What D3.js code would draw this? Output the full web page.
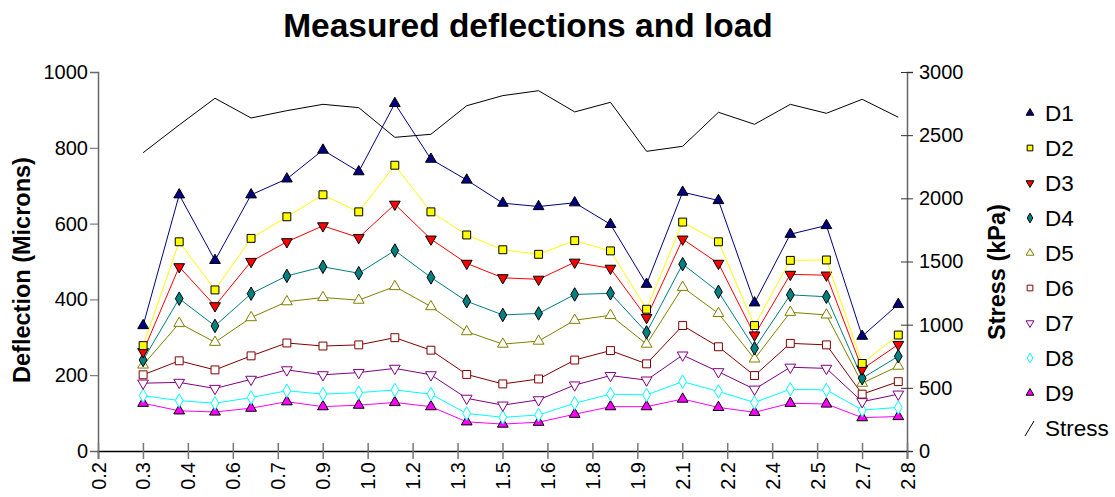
<!DOCTYPE html>
<html>
<head>
<meta charset="utf-8">
<script src="https://cdn.jsdelivr.net/npm/d3@7"></script>
<style>
  html, body { margin: 0; padding: 0; background: #fff; }
  svg { display: block; font-family: "Liberation Sans", Arial, sans-serif; }
</style>
</head>
<body>
<svg id="chart" width="1115" height="497"></svg>
<script>
// Station positions along the section (km)
const stations = [0.345, 0.461, 0.576, 0.692, 0.807, 0.923, 1.038, 1.154, 1.270, 1.385, 1.501,
                  1.616, 1.732, 1.847, 1.963, 2.079, 2.194, 2.310, 2.425, 2.541, 2.656, 2.772];

// Deflections per geophone (microns)
const D1 = [331, 676, 503, 676, 718, 794, 737, 917, 770, 715, 654, 645, 655, 598, 440, 683, 661, 391, 572, 595, 303, 387];
const D2 = [278, 552, 425, 561, 618, 676, 631, 754, 631, 570, 531, 519, 555, 528, 374, 604, 552, 331, 503, 504, 231, 306];
const D3 = [262, 486, 383, 500, 552, 594, 563, 651, 559, 495, 457, 453, 498, 482, 352, 559, 495, 306, 466, 464, 216, 281];
const D4 = [240, 402, 330, 415, 462, 486, 469, 529, 458, 395, 359, 363, 413, 416, 313, 493, 420, 271, 412, 407, 192, 250];
const D5 = [227, 337, 287, 352, 394, 405, 398, 434, 381, 315, 282, 290, 345, 358, 282, 432, 363, 243, 366, 359, 179, 224];
const D6 = [201, 238, 214, 251, 285, 277, 280, 299, 266, 202, 177, 190, 240, 265, 230, 331, 275, 199, 284, 280, 150, 183];
const D7 = [179, 181, 165, 189, 214, 201, 207, 218, 201, 139, 121, 135, 174, 199, 187, 253, 209, 163, 221, 218, 130, 150];
const D8 = [146, 133, 126, 141, 159, 150, 154, 161, 150, 99, 89, 95, 126, 150, 148, 183, 157, 128, 163, 161, 108, 115];
const D9 = [126, 106, 103, 113, 130, 117, 121, 128, 117, 77, 71, 76, 97, 117, 117, 137, 115, 102, 126, 124, 88, 91];

// Applied stress (kPa)
const stress = [2361, 2581, 2792, 2636, 2694, 2744, 2718, 2483, 2507, 2733, 2813, 2852, 2684, 2760,
                2372, 2412, 2681, 2586, 2744, 2673, 2784, 2642];

// Axis tick labels
const xTickLabels = ["0.2", "0.3", "0.4", "0.6", "0.7", "0.9", "1.0", "1.2", "1.3", "1.5",
                     "1.6", "1.8", "1.9", "2.1", "2.2", "2.4", "2.5", "2.7", "2.8"];
const yLeftTicks = [0, 200, 400, 600, 800, 1000];
const yRightTicks = [0, 500, 1000, 1500, 2000, 2500, 3000];

const seriesNames = ["D1", "D2", "D3", "D4", "D5", "D6", "D7", "D8", "D9"];
const seriesValues = [D1, D2, D3, D4, D5, D6, D7, D8, D9];

// Marker style for each geophone series
const styles = {
  D1: { color: "#000080", shape: "up",      fill: "#000080", stroke: "#000" },
  D2: { color: "#ffff00", shape: "square",  fill: "#ffff00", stroke: "#000" },
  D3: { color: "#ff0000", shape: "down",    fill: "#ff0000", stroke: "#000" },
  D4: { color: "#008080", shape: "diamond", fill: "#008080", stroke: "#000" },
  D5: { color: "#808000", shape: "up",      fill: "#fff",    stroke: "#808000" },
  D6: { color: "#800000", shape: "square",  fill: "#fff",    stroke: "#800000" },
  D7: { color: "#800080", shape: "down",    fill: "#fff",    stroke: "#800080" },
  D8: { color: "#00ffff", shape: "diamond", fill: "#fff",    stroke: "#00ffff" },
  D9: { color: "#ff00ff", shape: "up",      fill: "#ff00ff", stroke: "#000" }
};

const FONT = "Liberation Sans, Arial, sans-serif";
const svg = d3.select("#chart");
const plot = { left: 98, right: 907, top: 72, bottom: 451 };

const x = d3.scaleLinear().domain([0.2, 2.8]).range([plot.left, plot.right]);
const yL = d3.scaleLinear().domain([0, 1000]).range([plot.bottom, plot.top]);
const yR = d3.scaleLinear().domain([0, 3000]).range([plot.bottom, plot.top]);

// Evenly spaced x ticks across the domain
const xTickValues = xTickLabels.map((_, i) => 0.2 + i * (2.8 - 0.2) / (xTickLabels.length - 1));

function markerPath(shape, s) {
  switch (shape) {
    case "square":  return d3.symbol(d3.symbolSquare, s * 1.25)();
    case "diamond": return d3.symbol(d3.symbolDiamond, s * 1.05)();
    default:        return d3.symbol(d3.symbolTriangle, s)();
  }
}
function markerTransform(shape, cx, cy) {
  const rot = shape === "down" ? " rotate(180)" : "";
  return `translate(${cx},${cy})${rot}`;
}

// Title
svg.append("text")
  .attr("x", 528).attr("y", 37)
  .attr("text-anchor", "middle")
  .attr("font-size", 33.5).attr("font-weight", "bold")
  .text("Measured deflections and load");

// Left axis
const gL = svg.append("g").attr("transform", `translate(${plot.left},0)`)
  .call(d3.axisLeft(yL).tickValues(yLeftTicks).tickSize(8).tickPadding(2).tickFormat(d3.format("d")));
gL.select(".domain").attr("stroke", "#666").attr("stroke-width", 1.5);
gL.selectAll(".tick line").attr("stroke", "#666");
gL.selectAll("text").attr("font-size", 20).attr("fill", "#000").attr("font-family", FONT);

// Right axis (ticks cross the axis line)
const gR = svg.append("g").attr("transform", `translate(${plot.right},0)`)
  .call(d3.axisRight(yR).tickValues(yRightTicks).tickSize(6).tickPadding(6).tickFormat(d3.format("d")));
gR.select(".domain").attr("stroke", "#666").attr("stroke-width", 1.5);
gR.selectAll(".tick line").attr("stroke", "#333").attr("x1", -6);
gR.selectAll("text").attr("font-size", 20).attr("fill", "#000").attr("font-family", FONT);

// Bottom axis with rotated labels
const gX = svg.append("g").attr("transform", `translate(0,${plot.bottom})`)
  .call(d3.axisBottom(x).tickValues(xTickValues).tickSize(8)
    .tickFormat((d, i) => xTickLabels[i]));
gX.select(".domain").attr("stroke", "#000").attr("stroke-width", 1.5);
gX.selectAll(".tick line").attr("stroke", "#777").attr("stroke-width", 1.5).attr("y1", -8);
gX.selectAll(".tick text")
  .attr("font-size", 20).attr("fill", "#000").attr("font-family", FONT)
  .attr("text-anchor", "end")
  .attr("dy", "0.35em")
  .attr("transform", "translate(0,11) rotate(-90)")
  .attr("x", 0).attr("y", 0);

// Axis titles
svg.append("text")
  .attr("transform", "translate(30,270) rotate(-90)")
  .attr("text-anchor", "middle")
  .attr("font-size", 23.5).attr("font-weight", "bold")
  .text("Deflection (Microns)");
svg.append("text")
  .attr("transform", "translate(1005,272) rotate(-90)")
  .attr("text-anchor", "middle")
  .attr("font-size", 23.5).attr("font-weight", "bold")
  .text("Stress (kPa)");

// Stress line
const lineR = d3.line().x((d, i) => x(stations[i])).y(d => yR(d));
svg.append("path").datum(stress)
  .attr("d", lineR).attr("fill", "none").attr("stroke", "#000").attr("stroke-width", 1);

// Deflection series, drawn from D9 upward
const lineL = d3.line().x((d, i) => x(stations[i])).y(d => yL(d));
seriesNames.slice().reverse().forEach(name => {
  const vals = seriesValues[seriesNames.indexOf(name)];
  const st = styles[name];
  const g = svg.append("g");
  g.append("path").datum(vals)
    .attr("d", lineL).attr("fill", "none").attr("stroke", st.color).attr("stroke-width", 1);
  g.selectAll("path.m").data(vals).join("path").attr("class", "m")
    .attr("d", markerPath(st.shape, 50))
    .attr("transform", (d, i) => markerTransform(st.shape, x(stations[i]), yL(d)))
    .attr("fill", st.fill).attr("stroke", st.stroke).attr("stroke-width", 1);
});

// Legend
const legend = svg.append("g");
seriesNames.forEach((name, i) => {
  const st = styles[name];
  const cy = 113 + i * 35;
  legend.append("path")
    .attr("d", markerPath(st.shape, 26))
    .attr("transform", markerTransform(st.shape, 1030, cy))
    .attr("fill", st.fill).attr("stroke", st.stroke).attr("stroke-width", 1);
  legend.append("text")
    .attr("x", 1045).attr("y", cy + 8)
    .attr("font-size", 22.5).text(name);
});
const sy = 113 + 9 * 35;
legend.append("line")
  .attr("x1", 1025).attr("y1", sy + 8).attr("x2", 1034).attr("y2", sy - 7)
  .attr("stroke", "#000").attr("stroke-width", 1);
legend.append("text").attr("x", 1045).attr("y", sy + 8).attr("font-size", 22.5).text("Stress");
</script>
</body>
</html>
